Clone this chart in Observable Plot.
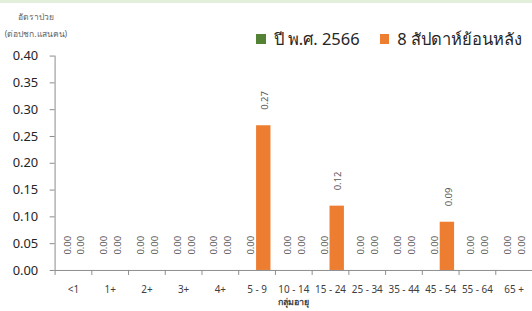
<!DOCTYPE html>
<html><head><meta charset="utf-8">
<script src="https://cdn.jsdelivr.net/npm/d3@7"></script>
<script src="https://cdn.jsdelivr.net/npm/@observablehq/plot@0.6"></script>
<style>
html,body{margin:0;padding:0;overflow:hidden;background:#fff;}
#wrap{position:relative;width:532px;height:311px;overflow:hidden;font-family:"Noto Sans",sans-serif;}
#band{position:absolute;left:0;top:0;width:532px;height:3px;background:#e2efda;}
#ytitle{position:absolute;left:0;top:8px;width:72px;text-align:center;font-size:8.5px;line-height:17px;color:#666;}
#legend{position:absolute;left:256px;top:26px;white-space:nowrap;font-size:16.5px;font-weight:400;color:#262626;display:flex;align-items:center;}
#legend .sw{display:inline-block;width:9.5px;height:9.5px;margin-right:8px;}
#legend .item{display:flex;align-items:center;margin-right:20px;}
#chart{position:absolute;left:0;top:0;}
</style></head>
<body>
<div id="wrap">
  <div id="band"></div>
  <div id="chart"></div>
  <div id="ytitle"></div>
  <div id="legend"></div>
</div>
<script>
const categories = ["<1","1+","2+","3+","4+","5 - 9","10 - 14","15 - 24","25 - 34","35 - 44","45 - 54","55 - 64","65 +"];
const seriesNames = ["ปี พ.ศ. 2566","8 สัปดาห์ย้อนหลัง"];
const seriesColors = ["#548235","#ed7d31"];
const values2566 = [0,0,0,0,0,0,0,0,0,0,0,0,0];
const valuesLast8 = [0,0,0,0,0,0.27,0,0.12,0,0,0.09,0,0];
const yTicks = [0,0.05,0.10,0.15,0.20,0.25,0.30,0.35,0.40];
const yTitle = ["อัตราป่วย","(ต่อปชก.แสนคน)"];
const xTitle = "กลุ่มอายุ";

const green = categories.map((c,i)=>({cat:c, v:values2566[i]}));
const orange = categories.map((c,i)=>({cat:c, v:valuesLast8[i]}));

const axisColor = "#8c8c8c";
const labelColor = "#595959";

const chart = Plot.plot({
  width: 536, height: 311,
  marginLeft: 55, marginRight: 0, marginTop: 56, marginBottom: 39,
  style: {fontFamily: "'Noto Sans', sans-serif", fontSize: "10px", color: "#404040", background: "transparent"},
  x: {domain: categories, padding: 0},
  y: {domain: [0, 0.4]},
  marks: [
    Plot.barY(green, {x: "cat", y: "v", fill: seriesColors[0], insetLeft: 4, insetRight: 19}),
    Plot.barY(orange, {x: "cat", y: "v", fill: seriesColors[1], insetLeft: 18, insetRight: 4.5}),
    Plot.text(green, {x: "cat", y: "v", text: d => d.v.toFixed(2), rotate: -90, textAnchor: "start", lineAnchor: "middle", dx: -6, dy: -16, fontSize: 9.5, fill: labelColor}),
    Plot.text(orange, {x: "cat", y: "v", text: d => d.v.toFixed(2), rotate: -90, textAnchor: "start", lineAnchor: "middle", dx: 8, dy: -16, fontSize: 9.5, fill: labelColor}),
    Plot.ruleY([0], {stroke: axisColor}),
    Plot.ruleX([categories[0]], {dx: -18.5, stroke: axisColor}),
    Plot.ruleX(categories, {x: d => d, y1: 0, y2: 0, insetBottom: -5, dx: -18.5, stroke: axisColor}),
    Plot.axisY({ticks: yTicks, tickFormat: d => d.toFixed(2), fontSize: 13, tickSize: 5, tickPadding: 12, stroke: axisColor, color: "#262626", label: null}),
    Plot.axisX({tickSize: 0, tickPadding: 16, fontSize: 10, color: "#404040", label: xTitle, labelAnchor: "center", labelOffset: 35, labelArrow: "none"})
  ]
});
document.getElementById("chart").appendChild(chart);
chart.querySelectorAll("g[aria-label='x-axis label'] text").forEach(t => {t.setAttribute("font-weight","bold"); t.setAttribute("font-size","9");});

document.getElementById("ytitle").innerHTML = yTitle.map(s=>`<div>${s}</div>`).join("");
document.getElementById("legend").innerHTML = seriesNames.map((s,i)=>`<span class="item"><span class="sw" style="background:${seriesColors[i]}"></span>${s}</span>`).join("");
</script>
</body></html>
